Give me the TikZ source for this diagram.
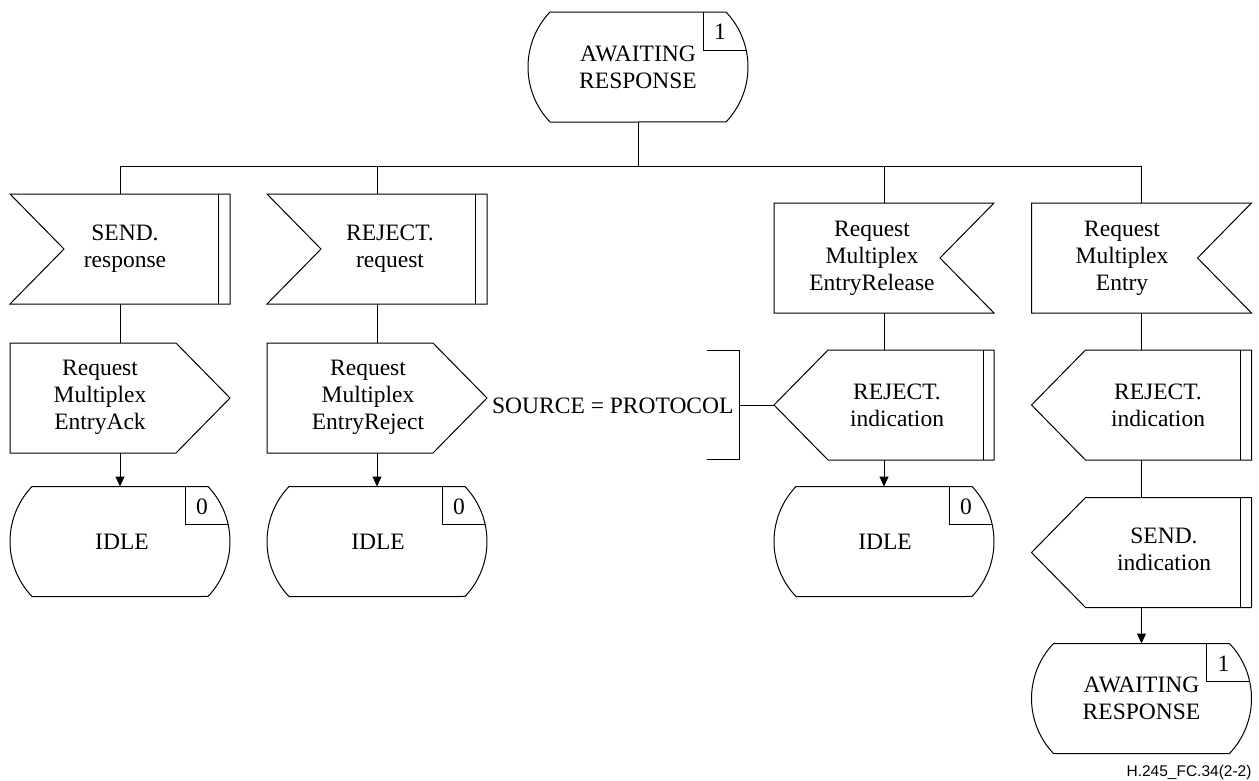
\documentclass[tikz,border=0pt]{standalone}
\usepackage{fontspec}
\setmainfont{Liberation Serif}
\newfontfamily\footfont{Liberation Sans}
\usetikzlibrary{arrows.meta}
\newcommand\drawstate[2]{%
  \draw ([xshift=22pt]#1.north west) -- ([xshift=-22pt]#1.north east)
    arc[start angle=43.6,end angle=-43.6,radius=79.75pt]
    -- ([xshift=22pt]#1.south west)
    arc[start angle=223.6,end angle=136.4,radius=79.75pt] -- cycle;
  \draw ([xshift=-45pt]#1.north east) -- ++(0,-38pt) -- ([xshift=-1.8pt,yshift=-38pt]#1.north east);
  \node[num] (#1-num) at ([xshift=-28pt,yshift=-20pt]#1.north east) {#2};
}
\newcommand\inputL[1]{%
  \draw (#1.north west) -- (#1.north east) -- (#1.south east) -- (#1.south west)
    -- ([xshift=54pt]#1.west) -- cycle;
  \draw ([xshift=-12pt]#1.north east) -- ([xshift=-12pt]#1.south east);
}
\newcommand\inputR[1]{%
  \draw (#1.north west) -- (#1.north east) -- ([xshift=-54pt]#1.east)
    -- (#1.south east) -- (#1.south west) -- cycle;
}
\newcommand\outputR[1]{%
  \draw (#1.north west) -- ([xshift=-54pt]#1.north east) -- (#1.east)
    -- ([xshift=-54pt]#1.south east) -- (#1.south west) -- cycle;
}
\newcommand\outputL[1]{%
  \draw (#1.west) -- ([xshift=54pt]#1.north west) -- (#1.north east)
    -- (#1.south east) -- ([xshift=54pt]#1.south west) -- cycle;
  \draw ([xshift=-11pt]#1.north east) -- ([xshift=-11pt]#1.south east);
}
\begin{document}
\begin{tikzpicture}[x=1pt,y=1pt,line width=1pt,
  body/.style={draw=none,minimum width=220pt,minimum height=110pt,inner sep=0pt,outer sep=0pt},
  lbl/.style={align=center,font=\fontsize{23.5}{27}\selectfont,inner sep=0pt},
  num/.style={font=\fontsize{23.5}{27}\selectfont,inner sep=0pt},
  arr/.style={-{Triangle[length=10pt,width=9pt]}},
]
\useasboundingbox (0,0) rectangle (1259,-780);

% top state
\node[body] (top) at (638,-67) {};
\drawstate{top}{1}
\node[lbl] (top-t) at (638,-67) {AWAITING\\RESPONSE};

% inputs
\node[body] (sr) at (120,-249) {};
\inputL{sr}
\node[lbl] (sr-t) at (125,-249) {SEND.\\response};

\node[body] (rr) at (377,-249) {};
\inputL{rr}
\node[lbl] (rr-t) at (390,-249) {REJECT.\\request};

\node[body] (rel) at (884,-258) {};
\inputR{rel}
\node[lbl] (rel-t) at (872,-258) {Request\\Multiplex\\EntryRelease};

\node[body] (ent) at (1141.5,-258) {};
\inputR{ent}
\node[lbl] (ent-t) at (1122,-258) {Request\\Multiplex\\Entry};

% outputs
\node[body] (ack) at (120,-398) {};
\outputR{ack}
\node[lbl] (ack-t) at (100,-397) {Request\\Multiplex\\EntryAck};

\node[body] (rej) at (377,-398) {};
\outputR{rej}
\node[lbl] (rej-t) at (368,-397) {Request\\Multiplex\\EntryReject};

\node[body] (ri1) at (884,-405) {};
\outputL{ri1}
\node[lbl] (ri1-t) at (897,-405) {REJECT.\\indication};

\node[body] (ri2) at (1141.5,-405) {};
\outputL{ri2}
\node[lbl] (ri2-t) at (1158,-405) {REJECT.\\indication};

\node[body] (si) at (1141.5,-552.5) {};
\outputL{si}
\node[lbl] (si-t) at (1164,-549) {SEND.\\indication};

% states
\node[body] (idle1) at (120,-541.5) {};
\drawstate{idle1}{0}
\node[lbl] (idle1-t) at (122,-541.5) {IDLE};

\node[body] (idle2) at (377,-541.5) {};
\drawstate{idle2}{0}
\node[lbl] (idle2-t) at (378,-541.5) {IDLE};

\node[body] (idle3) at (884,-541.5) {};
\drawstate{idle3}{0}
\node[lbl] (idle3-t) at (885,-541.5) {IDLE};

\node[body] (aw2) at (1141.5,-698.5) {};
\drawstate{aw2}{1}
\node[lbl] (aw2-t) at (1141.5,-698.5) {AWAITING\\RESPONSE};

% connectors
\coordinate (bus) at (638,-166);
\draw (top.south) -- (bus);
\draw (bus) -| (sr.north);
\draw (bus) -| (rr.north);
\draw (bus) -| (rel.north);
\draw (bus) -| (ent.north);

\draw (sr.south) -- (ack.north);
\draw (rr.south) -- (rej.north);
\draw (rel.south) -- (ri1.north);
\draw (ent.south) -- (ri2.north);

\draw[arr] (ack.south) -- (idle1.north);
\draw[arr] (rej.south) -- (idle2.north);
\draw[arr] (ri1.south) -- (idle3.north);
\draw (ri2.south) -- (si.north);
\draw[arr] (si.south) -- (aw2.north);

% comment bracket
\coordinate (brk) at (739,-405);
\draw (ri1.west) -- (brk);
\draw ([xshift=-32pt,yshift=55pt]brk) -| ([yshift=-54pt]brk) -- ++(-32pt,0);
\node[lbl,anchor=base east] (src) at (734,-413) {SOURCE = PROTOCOL};

% footer
\node[inner sep=0pt,anchor=base east,font=\footfont\fontsize{15.5}{17}\selectfont] (foot) at (1252,-776) {H.245\_FC.34(2-2)};
\end{tikzpicture}
\end{document}
